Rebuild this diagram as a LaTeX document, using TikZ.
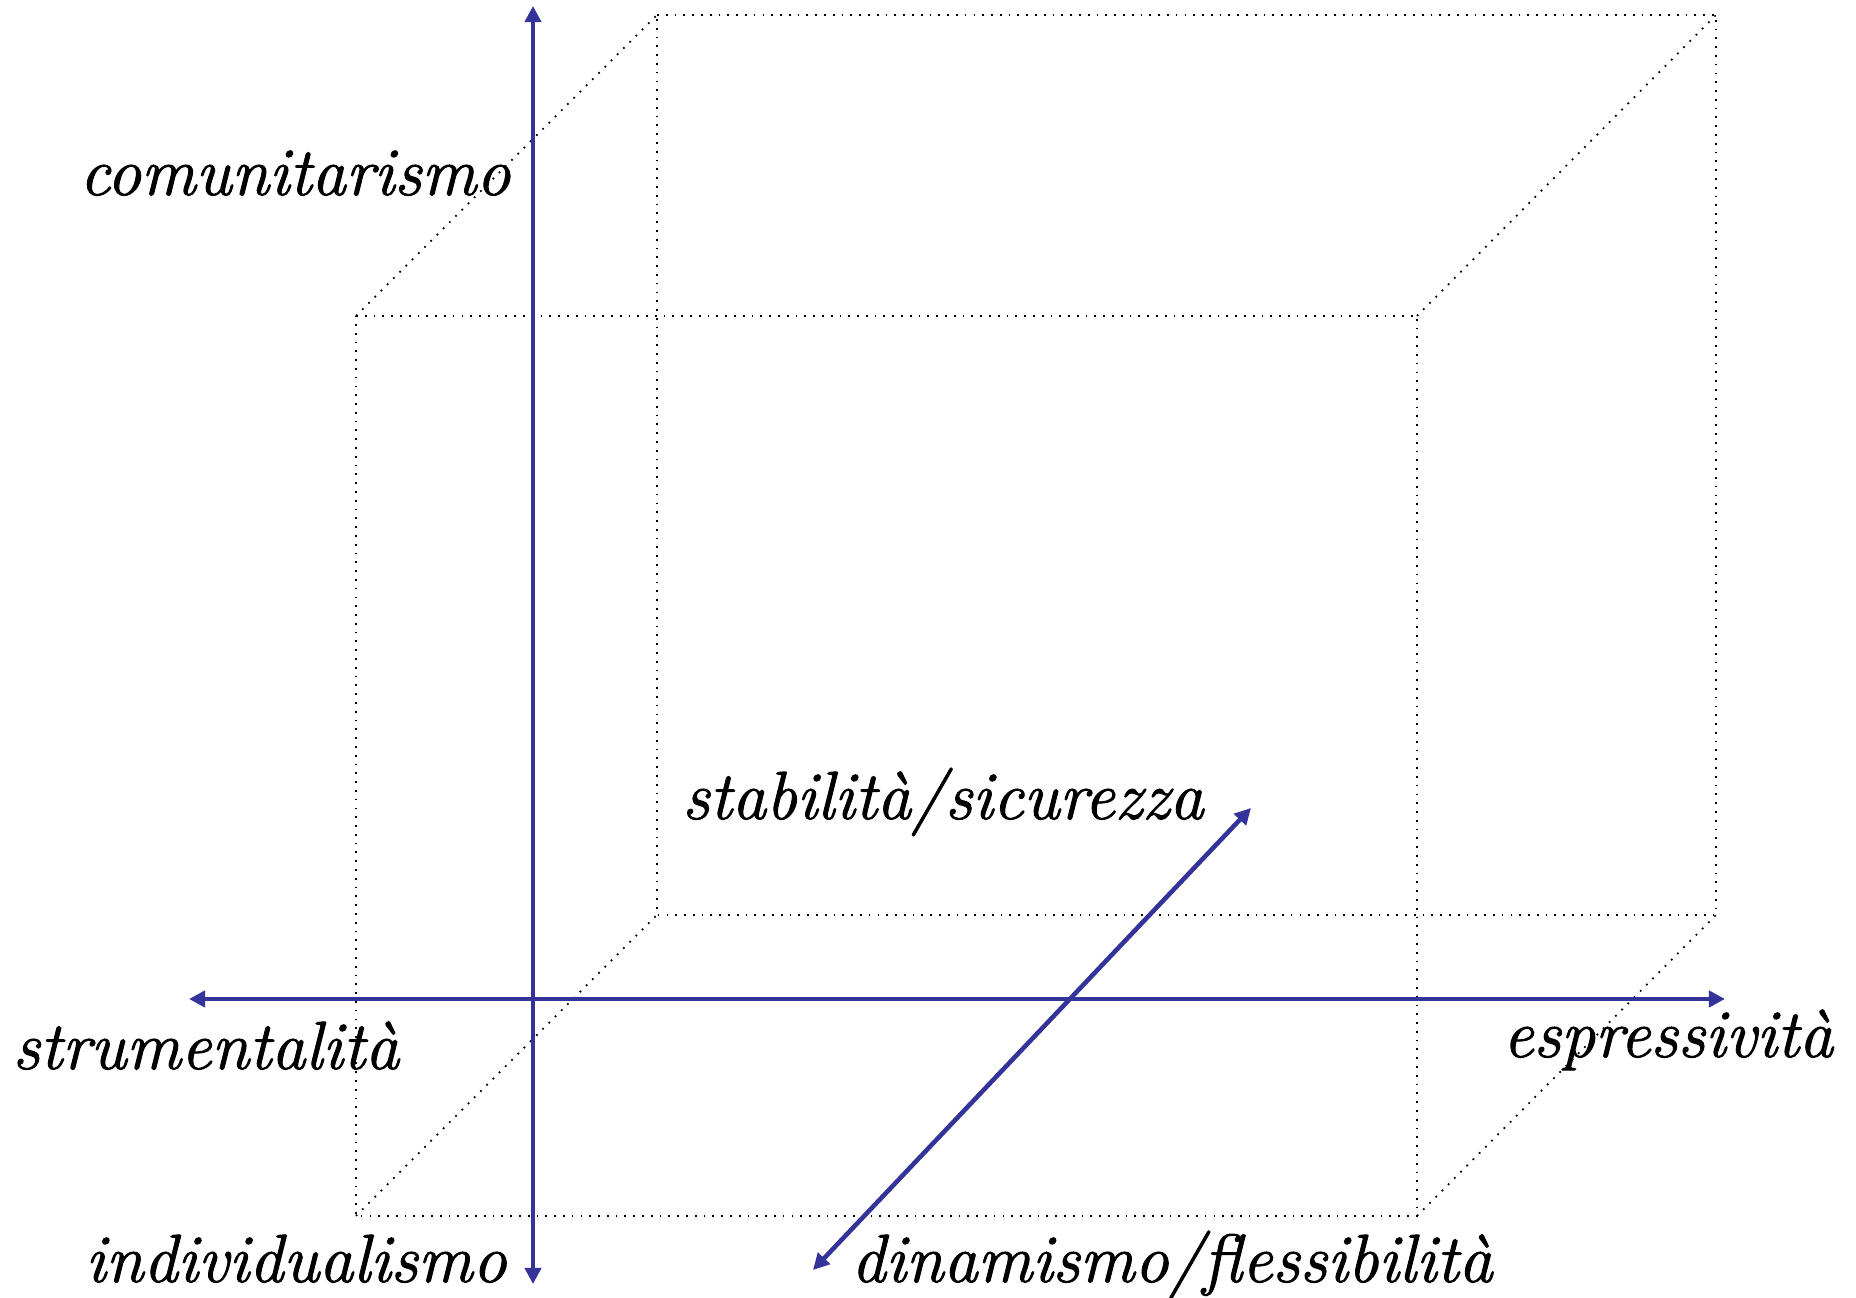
\documentclass[tikz,border=0pt]{standalone}
\usepackage{fontspec}
\newfontfamily\labelfont{Latin Modern Roman}[FakeBold=1.3]
\definecolor{axisblue}{RGB}{51,51,153}
\usetikzlibrary{arrows.meta}

\begin{document}
\begin{tikzpicture}[
  x=0.01cm, y=-0.01cm,
  cubeedge/.style={draw=black, dotted, line width=0.5pt},
  dimarrow/.style={
    {Triangle[length=4.6pt,width=4.6pt]}-{Triangle[length=4.6pt,width=4.6pt]},
    line width=1.3pt, draw=axisblue
  },
  dimlabel/.style={
    anchor=base, inner sep=0pt,
    font=\labelfont\fontsize{19.4}{23}\selectfont\itshape
  }
]
\useasboundingbox (0,0) rectangle (1856,1298);

\coordinate (f1) at (356,316);
\coordinate (f2) at (1417,316);
\coordinate (f3) at (1417,1216);
\coordinate (f4) at (356,1216);
\coordinate (b1) at (657,15);
\coordinate (b2) at (1716,15);
\coordinate (b3) at (1716,915);
\coordinate (b4) at (657,915);

\draw[cubeedge] (f1) -- (f2) -- (f3) -- (f4) -- cycle;
\draw[cubeedge] (b1) -- (b2) -- (b3) -- (b4) -- cycle;
\draw[cubeedge] (f1) -- (b1);
\draw[cubeedge] (f2) -- (b2);
\draw[cubeedge] (f3) -- (b3);
\draw[cubeedge] (f4) -- (b4);

\coordinate (up)    at (533,6);
\coordinate (down)  at (533,1284);
\coordinate (left)  at (189,999);
\coordinate (right) at (1725,999);
\coordinate (back)  at (1251,808);
\coordinate (front) at (813,1270);

\draw[dimarrow] (down) -- (up);
\draw[dimarrow] (left) -- (right);
\draw[dimarrow] (front) -- (back);

\node[dimlabel] (comun)  at (295,195)  {comunitarismo};
\node[dimlabel] (indiv)  at (296,1282) {individualismo};
\node[dimlabel] (strum)  at (206,1069) {strumentalità};
\node[dimlabel] (espr)   at (1668,1057) {espressività};
\node[dimlabel] (stab)   at (943,819)  {stabilità/sicurezza};
\node[dimlabel] (dinam)  at (1172,1282) {dinamismo/flessibilità};
\end{tikzpicture}
\end{document}
